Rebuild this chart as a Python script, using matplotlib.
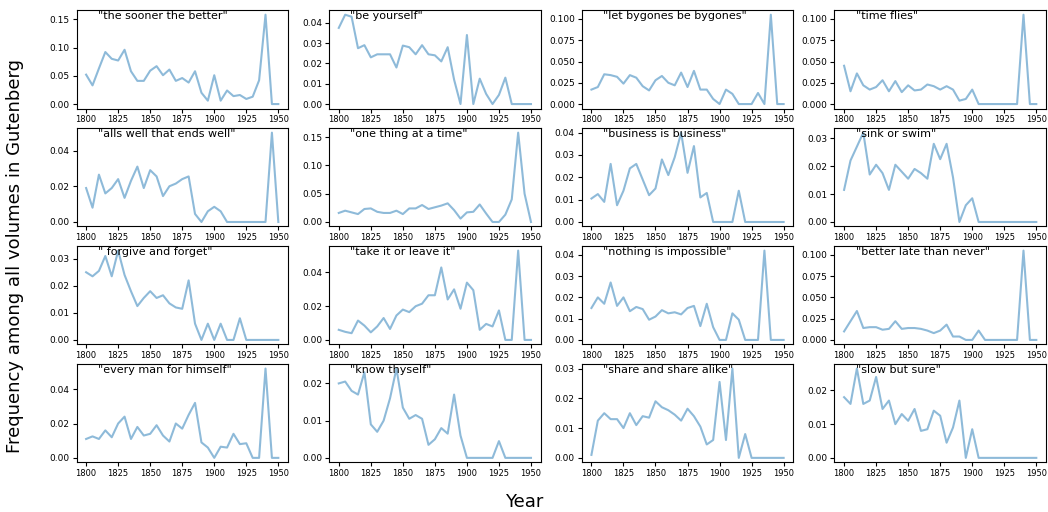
import matplotlib.pyplot as plt
import numpy as np

years = np.arange(1800, 1951, 5)

phrases = [
    '"the sooner the better"', '"be yourself"', '"let bygones be bygones"', '"time flies"',
    '"alls well that ends well"', '"one thing at a time"', '"business is business"', '"sink or swim"',
    '" forgive and forget"', '"take it or leave it"', '"nothing is impossible"', '"better late than never"',
    '"every man for himself"', '"know thyself"', '"share and share alike"', '"slow but sure"',
]

sooner_better = [.052, .033, .063, .092, .080, .077, .096, .058, .041, .041, .059, .067, .051, .061, .041, .046,
                 .038, .058, .020, .006, .051, .006, .024, .014, .016, .009, .013, .042, .158, 0, 0]
be_yourself = [.0375, .044, .043, .0275, .029, .023, .0245, .0245, .0245, .018, .0288, .028, .0245, .029, .0245, .024,
               .021, .028, .012, 0, .034, 0, .0125, .005, 0, .0045, .013, 0, 0, 0, 0]
let_bygones = [.017, .020, .035, .034, .032, .024, .034, .031, .021, .016, .028, .033, .025, .022, .037, .020,
               .039, .017, .017, .006, 0, .017, .012, 0, 0, 0, .013, 0, .105, 0, 0]
time_flies = [.045, .015, .036, .022, .017, .020, .028, .015, .027, .014, .022, .016, .017, .023, .021, .017,
              .021, .017, .004, .006, .017, 0, 0, 0, 0, 0, 0, 0, .105, 0, 0]
alls_well = [.019, .008, .0265, .016, .019, .024, .0135, .023, .031, .019, .029, .0255, .0145, .020, .0215, .024,
             .0255, .0045, 0, .006, .0085, .006, 0, 0, 0, 0, 0, 0, 0, .050, 0]
one_thing = [.016, .020, .017, .014, .023, .024, .018, .016, .016, .020, .014, .024, .024, .030, .023, .026,
             .029, .033, .021, .006, .017, .018, .031, .015, 0, 0, .013, .040, .158, .050, 0]
business = [.0105, .0125, .009, .026, .0075, .014, .024, .026, .019, .012, .015, .028, .021, .029, .040, .022,
            .034, .011, .013, 0, 0, 0, 0, .014, 0, 0, 0, 0, 0, 0, 0]
sink_swim = [.0115, .022, .027, .032, .017, .0205, .0175, .0115, .0205, .018, .0155, .019, .0175, .0155, .028, .0225,
             .028, .016, 0, .006, .0085, 0, 0, 0, 0, 0, 0, 0, 0, 0, 0]
forgive = [.025, .0235, .0255, .031, .0235, .033, .024, .018, .0125, .0155, .018, .0155, .0165, .0135, .012, .0115,
           .022, .006, 0, .006, 0, .006, 0, 0, .008, 0, 0, 0, 0, 0, 0]
take_it = [.006, .0048, .004, .0115, .0085, .0045, .008, .013, .0065, .0145, .018, .0165, .020, .0215, .0265, .0265,
           .043, .024, .030, .0185, .034, .0295, .006, .0095, .008, .0175, 0, 0, .053, 0, 0]
nothing_imp = [.015, .020, .017, .027, .016, .020, .0135, .0155, .0145, .0095, .011, .014, .0125, .013, .012, .015,
               .016, .0065, .017, .006, 0, 0, .0125, .0095, 0, 0, 0, .042, 0, 0, 0]
better_late = [.010, .022, .034, .014, .015, .015, .012, .013, .022, .013, .014, .014, .013, .011, .008, .011,
               .018, .004, .004, 0, 0, .011, 0, 0, 0, 0, 0, 0, .105, 0, 0]
every_man = [.011, .0125, .011, .016, .012, .020, .024, .011, .018, .013, .014, .019, .013, .0095, .020, .017,
             .025, .032, .009, .006, 0, .0065, .006, .014, .008, .0085, 0, 0, .052, 0, 0]
know_thyself = [.020, .0205, .018, .017, .023, .009, .007, .010, .016, .024, .0135, .0105, .0115, .0105, .0035, .005,
                .008, .0065, .017, .006, 0, 0, 0, 0, 0, .0045, 0, 0, 0, 0, 0]
share_alike = [.001, .0125, .015, .013, .013, .010, .015, .011, .014, .0135, .019, .017, .016, .0145, .0125, .0165,
               .014, .0105, .0045, .006, .0255, .006, .030, 0, .008, 0, 0, 0, 0, 0, 0]
slow_sure = [.018, .016, .0265, .016, .017, .024, .0145, .017, .010, .013, .011, .0145, .008, .0085, .014, .0125,
             .0045, .009, .017, 0, .0085, 0, 0, 0, 0, 0, 0, 0, 0, 0, 0]

series = [sooner_better, be_yourself, let_bygones, time_flies,
          alls_well, one_thing, business, sink_swim,
          forgive, take_it, nothing_imp, better_late,
          every_man, know_thyself, share_alike, slow_sure]

fig, axes = plt.subplots(4, 4, figsize=(10.48, 5.12), dpi=100)
fig.subplots_adjust(left=0.073, right=0.998, top=0.98, bottom=0.097, wspace=0.195, hspace=0.2)

for ax, phrase, vals in zip(axes.flat, phrases, series):
    ax.plot(years, vals, color='#1f77b4', alpha=0.5, linewidth=1.5)
    ax.set_xticks([1800, 1825, 1850, 1875, 1900, 1925, 1950])
    ax.tick_params(axis='x', labelsize=6, length=3, pad=2)
    ax.tick_params(axis='y', labelsize=6.5, length=3, pad=2)
    ax.text(0.1, 0.99, phrase, transform=ax.transAxes, ha='left', va='top', fontsize=8)

fig.text(0.5, 0.02, 'Year', ha='center', va='center', fontsize=13)
fig.text(0.014, 0.5, 'Frequency among all volumes in Gutenberg', ha='center', va='center',
         rotation=90, fontsize=13)

plt.savefig('out.png', dpi=100)
